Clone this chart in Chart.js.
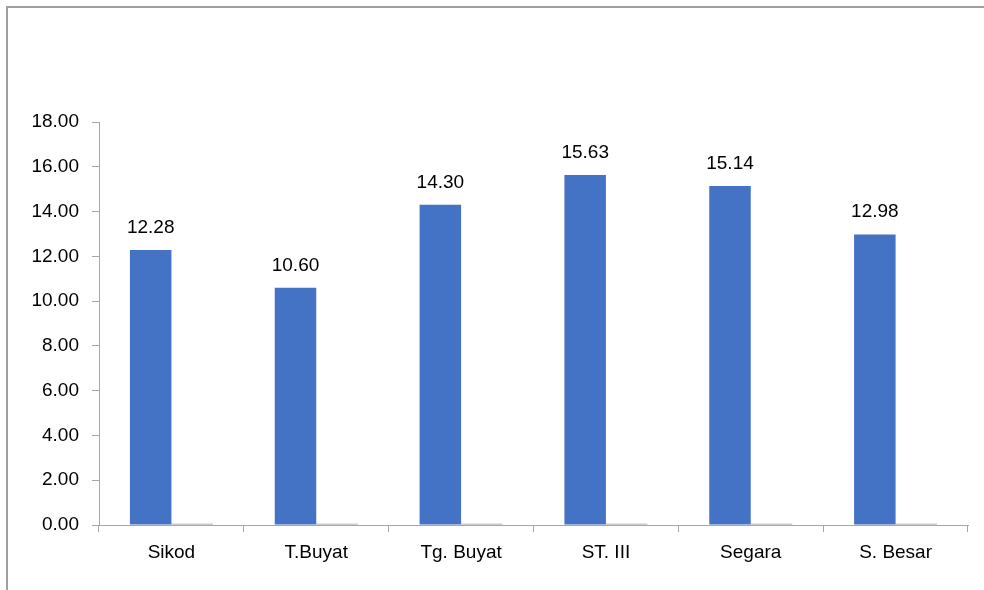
<!DOCTYPE html>
<html>
<head>
<meta charset="utf-8">
<script src="https://cdn.jsdelivr.net/npm/chart.js@4"></script>
<style>
  body { margin: 0; background: #fff; }
  #wrap { width: 984px; height: 590px; position: relative; }
</style>
</head>
<body>
<div id="wrap"><canvas id="myChart"></canvas></div>
<script>
// stations and measured values
const stations = ['Sikod', 'T.Buyat', 'Tg. Buyat', 'ST. III', 'Segara', 'S. Besar'];
const mainValues = [12.28, 10.60, 14.30, 15.63, 15.14, 12.98];
const sideValues = [0.06, 0.06, 0.06, 0.06, 0.06, 0.06];
const yTicks = [0, 2, 4, 6, 8, 10, 12, 14, 16, 18];

const fontFamily = '"Liberation Sans", Arial, sans-serif';
const axisGray = '#a6a6a6';

// outer frame: top and left edges only
const framePlugin = {
    id: 'frame',
    beforeDraw(chart) {
        const c = chart.ctx;
        c.save();
        c.fillStyle = '#a0a0a0';
        c.fillRect(6, 6, chart.width - 6, 2);
        c.fillRect(6, 6, 2, chart.height - 6);
        c.restore();
    }
};

// value labels above the blue bars
const valueLabels = {
    id: 'valueLabels',
    afterDatasetsDraw(chart) {
        const c = chart.ctx;
        const meta = chart.getDatasetMeta(0);
        c.save();
        c.font = '19px ' + fontFamily;
        c.fillStyle = '#000';
        c.textAlign = 'center';
        c.textBaseline = 'alphabetic';
        meta.data.forEach((bar, i) => {
            c.fillText(mainValues[i].toFixed(2), bar.x, bar.y - 17);
        });
        c.restore();
    }
};

const ctx = document.getElementById('myChart');
const myChart = new Chart(ctx, {
    type: 'bar',
    data: {
        labels: stations,
        datasets: [
            {
                data: mainValues,
                backgroundColor: '#4472c4',
                borderWidth: 0
            },
            {
                data: sideValues,
                backgroundColor: '#999999',
                borderWidth: 0
            }
        ]
    },
    options: {
        responsive: true,
        maintainAspectRatio: false,
        animation: false,
        categoryPercentage: 0.573,
        barPercentage: 1,
        layout: {
            padding: { top: 122, right: 16, left: 0, bottom: 0 }
        },
        plugins: {
            legend: { display: false },
            tooltip: { enabled: false }
        },
        scales: {
            x: {
                offset: true,
                afterFit(scale) { scale.height = 65; },
                grid: {
                    offset: true,
                    drawOnChartArea: false,
                    tickLength: 7,
                    color: axisGray
                },
                border: { color: axisGray, width: 1 },
                ticks: {
                    color: '#000',
                    padding: 9,
                    font: { family: fontFamily, size: 19 }
                }
            },
            y: {
                min: 0,
                max: 18,
                afterFit(scale) { scale.width = 99; },
                afterBuildTicks(scale) {
                    scale.ticks = yTicks.map(v => ({ value: v }));
                },
                grid: {
                    drawOnChartArea: false,
                    tickLength: 7,
                    color: axisGray
                },
                border: { color: axisGray, width: 1 },
                ticks: {
                    color: '#000',
                    padding: 13,
                    font: { family: fontFamily, size: 19 },
                    callback: v => Number(v).toFixed(2)
                }
            }
        }
    },
    plugins: [framePlugin, valueLabels]
});
</script>
</body>
</html>
